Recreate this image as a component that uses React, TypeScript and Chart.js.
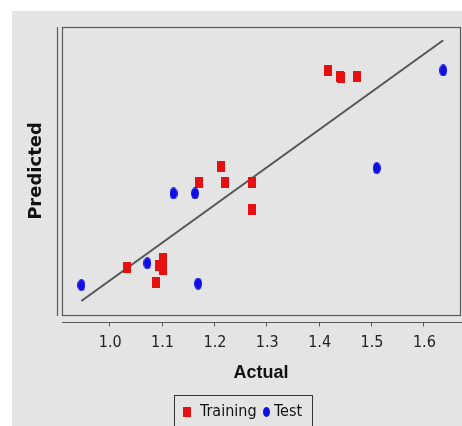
import React, { useEffect, useRef } from "react";
import { Chart, registerables } from "chart.js";

Chart.register(...registerables);

// ---- data ----
const TRAIN_ACTUAL = [1.033, 1.087, 1.094, 1.101, 1.101, 1.170, 1.211, 1.220, 1.270, 1.270, 1.415, 1.438, 1.441, 1.471];
const TRAIN_PREDICTED = [1.033, 0.995, 1.040, 1.058, 1.029, 1.258, 1.301, 1.258, 1.258, 1.188, 1.557, 1.541, 1.536, 1.539];
const TEST_ACTUAL = [0.945, 1.071, 1.121, 1.162, 1.168, 1.509, 1.636];
const TEST_PREDICTED = [0.987, 1.045, 1.230, 1.230, 0.991, 1.297, 1.556];
const FIT_LINE = [0.945, 1.636];
const X_TICKS = [1.0, 1.1, 1.2, 1.3, 1.4, 1.5, 1.6];
const AXIS_MIN = 0.908;
const X_MAX = 1.668;
const Y_MAX = 1.671;
const SERIES_LABELS = ["Training", "Test"];

const RED = "#e61010";
const BLUE = "#1010e6";
const FRAME = "#5a5a5a";
const TICK_FONT = "'Liberation Sans Narrow', 'DejaVu Sans Condensed', 'Liberation Sans', sans-serif";

function makeMarker(kind: "rect" | "ellipse", color: string, w: number, h: number) {
  const c = document.createElement("canvas");
  c.width = w;
  c.height = h;
  const g = c.getContext("2d")!;
  g.fillStyle = color;
  if (kind === "rect") {
    g.fillRect(0, 0, w, h);
  } else {
    g.beginPath();
    g.ellipse(w / 2, h / 2, w / 2, h / 2, 0, 0, Math.PI * 2);
    g.fill();
  }
  return c;
}

export default function App() {
  const ref = useRef<HTMLCanvasElement | null>(null);

  useEffect(() => {
    if (!ref.current) return;
    const square = makeMarker("rect", RED, 8, 11);
    const dot = makeMarker("ellipse", BLUE, 8, 12);
    const legendSquare = makeMarker("rect", RED, 8, 10);
    const legendDot = makeMarker("ellipse", BLUE, 7, 10);

    const framePlugin = {
      id: "frames",
      beforeDraw(chart: any) {
        const { ctx, width, height } = chart;
        ctx.save();
        ctx.fillStyle = "#ffffff";
        ctx.fillRect(0, 0, width, height);
        ctx.fillStyle = "#e4e4e4";
        ctx.fillRect(12, 11, width - 12, height - 11);
        ctx.restore();
      },
      beforeDatasetsDraw(chart: any) {
        const { ctx, chartArea: ca, width } = chart;
        const xs = chart.scales.x;
        ctx.save();
        ctx.strokeStyle = FRAME;
        ctx.lineWidth = 1.2;
        ctx.strokeRect(ca.left + 0.5, ca.top + 0.5, ca.right - ca.left, ca.bottom - ca.top);
        // y axis line
        ctx.beginPath();
        ctx.moveTo(ca.left - 4.5, ca.top);
        ctx.lineTo(ca.left - 4.5, ca.bottom + 1);
        // x axis line
        const ay = ca.bottom + 7.5;
        ctx.moveTo(ca.left, ay);
        ctx.lineTo(width, ay);
        ctx.stroke();
        ctx.lineWidth = 1;
        ctx.beginPath();
        for (const t of xs.ticks) {
          const px = Math.round(xs.getPixelForValue(t.value)) - 0.5;
          ctx.moveTo(px, ay);
          ctx.lineTo(px, ay + 4);
        }
        ctx.stroke();
        ctx.restore();
      },
      afterDraw(chart: any) {
        const { ctx } = chart;
        ctx.save();
        ctx.strokeStyle = "#333";
        ctx.lineWidth = 1;
        ctx.strokeRect(174.5, 395.5, 138, 45);
        ctx.font = `16px ${TICK_FONT}`;
        ctx.fillStyle = "#111";
        ctx.textBaseline = "middle";
        const cy = 412;
        ctx.drawImage(legendSquare, 183, cy - 5);
        ctx.fillText(SERIES_LABELS[0], 200, cy);
        ctx.drawImage(legendDot, 263, cy - 5);
        ctx.fillText(SERIES_LABELS[1], 274, cy);
        ctx.restore();
      },
    };

    const chart = new Chart(ref.current, {
      type: "scatter",
      data: {
        datasets: [
          {
            label: SERIES_LABELS[0],
            data: TRAIN_ACTUAL.map((x, i) => ({ x, y: TRAIN_PREDICTED[i] })),
            pointStyle: square as any,
            backgroundColor: RED,
            borderColor: RED,
            order: 2,
          },
          {
            label: SERIES_LABELS[1],
            data: TEST_ACTUAL.map((x, i) => ({ x, y: TEST_PREDICTED[i] })),
            pointStyle: dot as any,
            backgroundColor: BLUE,
            borderColor: BLUE,
            order: 1,
          },
          {
            label: "fit",
            data: FIT_LINE.map((v) => ({ x: v, y: v })),
            showLine: true,
            borderColor: "#555555",
            borderWidth: 2,
            pointRadius: 0,
            order: 3,
          } as any,
        ],
      },
      options: {
        animation: false,
        responsive: false,
        devicePixelRatio: 1,
        layout: { autoPadding: false, padding: { left: 0, top: 27, right: 2, bottom: 42 } },
        plugins: { legend: { display: false }, tooltip: { enabled: false } },
        scales: {
          x: {
            type: "linear",
            min: AXIS_MIN,
            max: X_MAX,
            afterBuildTicks: (s: any) => {
              s.ticks = X_TICKS.map((v) => ({ value: v }));
            },
            afterFit: (s: any) => {
              s.height = 69;
              s.paddingLeft = 0;
              s.paddingRight = 0;
            },
            grid: { display: false, drawTicks: false },
            border: { display: false },
            ticks: {
              padding: 18,
              color: "#222",
              maxRotation: 0,
              autoSkip: false,
              font: { family: TICK_FONT, size: 16 },
              callback: (v: any) => Number(v).toFixed(1),
            },
            title: {
              display: true,
              text: "Actual",
              color: "#111",
              padding: 0,
              font: { family: "'Liberation Sans', sans-serif", weight: "bold", size: 18 },
            },
          },
          y: {
            type: "linear",
            min: AXIS_MIN,
            max: Y_MAX,
            afterFit: (s: any) => {
              s.width = 62;
              s.paddingTop = 0;
              s.paddingBottom = 0;
            },
            grid: { display: false },
            border: { display: false },
            ticks: { display: false },
            title: {
              display: true,
              text: "Predicted",
              color: "#111",
              padding: { top: 26, bottom: 0 },
              font: { family: "'DejaVu Sans', sans-serif", weight: "bold", size: 18 },
            },
          },
        },
      } as any,
      plugins: [framePlugin],
    });
    return () => chart.destroy();
  }, []);

  return (
    <div style={{ position: "absolute", left: 0, top: 0, width: 462, height: 426 }}>
      <canvas ref={ref} width={462} height={426} style={{ display: "block", width: 462, height: 426 }} />
    </div>
  );
}
